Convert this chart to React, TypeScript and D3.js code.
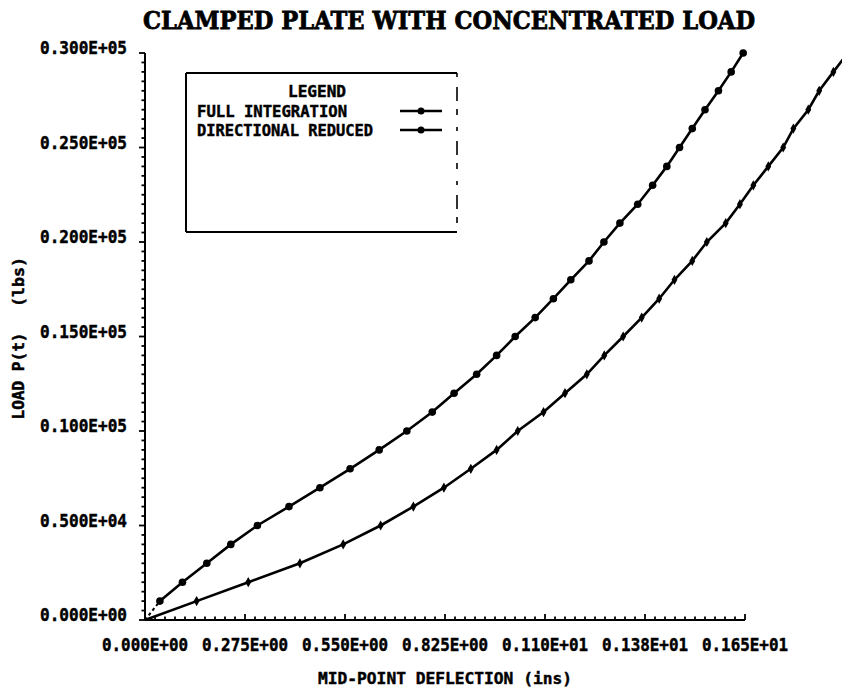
import React from 'react';
import * as d3 from 'd3';

const loads = [0, 1000, 2000, 3000, 4000, 5000, 6000, 7000, 8000, 9000, 10000, 11000, 12000, 13000, 14000, 15000, 16000, 17000, 18000, 19000, 20000, 21000, 22000, 23000, 24000, 25000, 26000, 27000, 28000, 29000, 30000];
const fullIntegration = [0, 0.041, 0.103, 0.170, 0.236, 0.309, 0.396, 0.481, 0.564, 0.644, 0.720, 0.790, 0.850, 0.912, 0.967, 1.018, 1.073, 1.123, 1.171, 1.221, 1.262, 1.306, 1.355, 1.396, 1.435, 1.470, 1.505, 1.540, 1.577, 1.612, 1.645];
const directionalReduced = [0, 0.142, 0.284, 0.426, 0.545, 0.648, 0.738, 0.822, 0.896, 0.967, 1.025, 1.096, 1.155, 1.215, 1.263, 1.315, 1.366, 1.414, 1.456, 1.505, 1.545, 1.597, 1.636, 1.673, 1.714, 1.755, 1.783, 1.824, 1.854, 1.893, 1.933];

const xTickValues = [0, 0.275, 0.55, 0.825, 1.1, 1.375, 1.65];
const xTickLabels = ['0.000E+00', '0.275E+00', '0.550E+00', '0.825E+00', '0.110E+01', '0.138E+01', '0.165E+01'];
const yTickValues = [0, 5000, 10000, 15000, 20000, 25000, 30000];
const yTickLabels = ['0.000E+00', '0.500E+04', '0.100E+05', '0.150E+05', '0.200E+05', '0.250E+05', '0.300E+05'];
const seriesNames = ['FULL INTEGRATION', 'DIRECTIONAL REDUCED'];

const W = 842;
const H = 690;
const FONT = '"DejaVu Sans Mono", "Liberation Mono", monospace';

export default function App() {
  const x = d3.scaleLinear().domain([0, 1.65]).range([145, 745]);
  const y = d3.scaleLinear().domain([0, 30000]).range([620, 53]);

  const fullPts: [number, number][] = loads.map((l, i) => [fullIntegration[i], l]);
  const redPts: [number, number][] = loads.map((l, i) => [directionalReduced[i], l]);
  const line = d3.line<[number, number]>().x(d => x(d[0])).y(d => y(d[1]));

  const xMinor = d3.range(0, 1.65 + 1e-9, 0.0275);
  const yMinor = d3.range(0, 30000 + 1, 500);
  const diamond = d3.symbol().type(d3.symbolDiamond).size(30)();

  const legendX0 = 186, legendX1 = 457, legendY0 = 73, legendY1 = 232;
  const txt = { fontFamily: FONT, fontWeight: 'bold' as const, fill: '#000', stroke: '#000', strokeWidth: 0.45 };

  return (
    <svg width={W} height={H} style={{ position: 'absolute', left: 0, top: 0, background: '#fff' }}>
      <rect x={0} y={0} width={W} height={H} fill="#fff" />
      {/* Title */}
      <text x={449} y={29} textAnchor="middle" fontFamily='"DejaVu Serif", serif' fontWeight="bold" fontSize={25}
        textLength={612} lengthAdjust="spacingAndGlyphs" fill="#000" stroke="#000" strokeWidth={0.8}>CLAMPED PLATE WITH CONCENTRATED LOAD</text>

      {/* Y axis */}
      <line x1={x(0)} x2={x(0)} y1={y(0)} y2={y(30000)} stroke="#000" strokeWidth={2} />
      {yMinor.map((v, i) => (
        <line key={'ym' + i} x1={x(0) - (v % 5000 === 0 ? 6 : 3.5)} x2={x(0)} y1={y(v)} y2={y(v)} stroke="#000" strokeWidth={1.8} />
      ))}
      {yTickValues.map((v, i) => (
        <text key={'yl' + i} x={127} y={y(v) + 1} textAnchor="end" fontSize={17}
          textLength={87} lengthAdjust="spacingAndGlyphs" {...txt}>{yTickLabels[i]}</text>
      ))}

      {/* X axis */}
      <line x1={x(0)} x2={x(1.65)} y1={y(0)} y2={y(0)} stroke="#000" strokeWidth={2} />
      {xMinor.map((v, i) => (
        <line key={'xm' + i} x1={x(v)} x2={x(v)} y1={y(0)} y2={y(0) - (i % 10 === 0 ? 6 : 3.5)} stroke="#000" strokeWidth={1.8} />
      ))}
      {xTickValues.map((v, i) => (
        <text key={'xl' + i} x={x(v)} y={651} textAnchor="middle" fontSize={17}
          textLength={86} lengthAdjust="spacingAndGlyphs" {...txt}>{xTickLabels[i]}</text>
      ))}

      {/* Axis titles */}
      <text x={445} y={684} textAnchor="middle" fontSize={16}
        textLength={254} lengthAdjust="spacingAndGlyphs" {...txt}>MID-POINT DEFLECTION (ins)</text>
      <text transform="translate(24,376) rotate(-90)" textAnchor="middle" fontSize={16}
        textLength={87} lengthAdjust="spacingAndGlyphs" {...txt}>LOAD P(t)</text>
      <text transform="translate(24,282) rotate(-90)" textAnchor="middle" fontSize={16}
        textLength={50} lengthAdjust="spacingAndGlyphs" {...txt}>(lbs)</text>

      {/* Curves */}
      <path d={line(fullPts.slice(1)) || ''} fill="none" stroke="#000" strokeWidth={2.6} />
      <path d={line(fullPts.slice(0, 2)) || ''} fill="none" stroke="#000" strokeWidth={2} strokeDasharray="3,3" />
      {fullPts.slice(1).map((d, i) => (
        <circle key={'fc' + i} cx={x(d[0])} cy={y(d[1])} r={3.8} fill="#000" />
      ))}
      <path d={line(redPts) || ''} fill="none" stroke="#000" strokeWidth={2.6} />
      {redPts.slice(1).map((d, i) => (
        <path key={'rc' + i} d={diamond || ''} transform={`translate(${x(d[0])},${y(d[1])})`} fill="#000" />
      ))}

      {/* Legend */}
      <line x1={legendX0} x2={legendX1} y1={legendY0} y2={legendY0} stroke="#000" strokeWidth={2} />
      <line x1={legendX0} x2={legendX1} y1={legendY1} y2={legendY1} stroke="#000" strokeWidth={2} />
      <line x1={legendX0} x2={legendX0} y1={legendY0} y2={legendY1} stroke="#000" strokeWidth={2} />
      <line x1={legendX1} x2={legendX1} y1={legendY0} y2={legendY1} stroke="#000" strokeWidth={1.6} strokeDasharray="4,10,14,8,6,12" />
      <text x={317} y={97} textAnchor="middle" fontSize={16}
        textLength={58} lengthAdjust="spacingAndGlyphs" {...txt}>LEGEND</text>
      {seriesNames.map((name, i) => (
        <g key={'lg' + i}>
          <text x={197} y={117 + i * 19} fontSize={16}
            textLength={i === 0 ? 150 : 176} lengthAdjust="spacingAndGlyphs" {...txt}>{name}</text>
          <line x1={400} x2={442} y1={111 + i * 19} y2={111 + i * 19} stroke="#000" strokeWidth={2.4} />
          <circle cx={421} cy={111 + i * 19} r={3.5} fill="#000" />
        </g>
      ))}
    </svg>
  );
}
